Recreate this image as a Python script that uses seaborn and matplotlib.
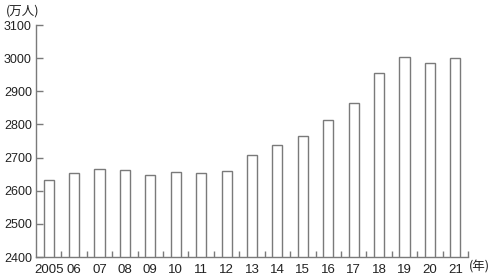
import matplotlib
matplotlib.use("Agg")
import matplotlib.pyplot as plt
import seaborn as sns
import numpy as np
from matplotlib.ticker import FixedLocator
from matplotlib import font_manager

years = ["2005", "06", "07", "08", "09", "10", "11", "12", "13", "14", "15",
         "16", "17", "18", "19", "20", "21"]
values = [2633, 2654, 2665, 2663, 2648, 2656, 2654, 2658, 2707, 2737, 2764,
          2812, 2864, 2954, 3003, 2984, 3000]
yticks = [2400, 2500, 2600, 2700, 2800, 2900, 3000, 3100]

sns.set_theme(style="white")
plt.rcParams['font.family'] = ['Noto Sans CJK JP', 'DejaVu Sans']

names = {f.name for f in font_manager.fontManager.ttflist}
if 'Liberation Sans Narrow' in names:
    numfam, ysize = ['Liberation Sans Narrow'], 10
else:
    numfam, ysize = ['Liberation Sans'], 9

gray = "#7a7a7a"
txt = "#222222"
fig = plt.figure(figsize=(5.0, 2.77), dpi=100)
ax = fig.add_axes([0.072, 0.0722, 0.864, 0.8375])

sns.barplot(x=years, y=values, order=years, color="white", edgecolor=gray,
            linewidth=1.0, width=0.4, ax=ax, saturation=1)

ax.set_ylim(2400, 3100)
ax.set_xlim(-0.5, 16.5)
ax.set_yticks(yticks)
ax.set_yticklabels([str(t) for t in yticks], fontsize=ysize, color=txt, family=numfam)
ax.set_xticks(range(len(years)))
ax.set_xticklabels(years, fontsize=ysize + 0.5, color=txt, family=numfam)
ax.xaxis.set_minor_locator(FixedLocator(np.arange(0.5, 16.6, 1.0)))
ax.tick_params(axis="x", which="major", length=0, pad=5)
ax.tick_params(axis="x", which="minor", direction="in", length=4, width=1, color=gray, bottom=True)
ax.tick_params(axis="y", which="major", direction="in", length=5, width=1, color=gray, left=True, pad=3)

for s in ["top", "right"]:
    ax.spines[s].set_visible(False)
for s in ["left", "bottom"]:
    ax.spines[s].set_color(gray)
    ax.spines[s].set_linewidth(1.0)

ax.set_xlabel("")
ax.set_ylabel("")
fig.text(0.012, 0.960, "(万人)", fontsize=9, ha="left", va="center", color=txt)
fig.text(0.938, 0.036, "(年)", fontsize=9, ha="left", va="center", color=txt)

fig.savefig("out.png", dpi=100)
